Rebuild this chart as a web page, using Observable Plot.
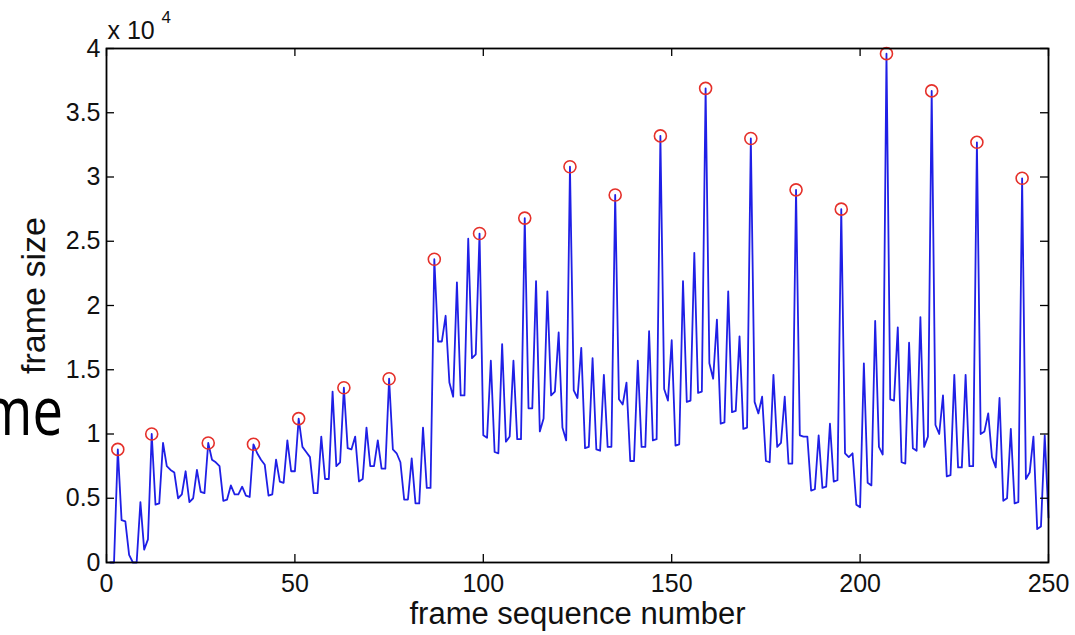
<!DOCTYPE html>
<html>
<head>
<meta charset="utf-8">
<script src="https://cdn.jsdelivr.net/npm/d3@7"></script>
<script src="https://cdn.jsdelivr.net/npm/@observablehq/plot@0.6"></script>
<style>
  html, body { margin: 0; padding: 0; background: #fff; }
  #wrap { position: relative; width: 1075px; height: 635px; overflow: hidden; background: #fff; }
  #overlay { position: absolute; left: 0; top: 0; pointer-events: none; }
</style>
</head>
<body>
<div id="wrap">
  <div id="chart"></div>
  <svg id="overlay" width="1075" height="635">
    <text transform="translate(63,435) scale(0.8,1)" text-anchor="end" font-family="'Open Sans', sans-serif" font-size="68" fill="#000">me</text>
  </svg>
</div>
<script>
// frame sizes (bytes) for frames 1..250
const frameSize = [
  0, 0, 8800, 3300, 3200, 600, 0, 0, 4700, 1000,
  1800, 10000, 4500, 4600, 9300, 7500, 7200, 7000, 5000, 5300,
  7100, 4700, 5000, 7200, 5500, 5400, 9300, 8000, 7800, 7500,
  4800, 4900, 6000, 5300, 5300, 5900, 5200, 5100, 9200, 8500,
  8000, 7600, 5200, 5300, 8000, 6300, 6200, 9500, 7100, 7100,
  11200, 9000, 8600, 8200, 5400, 5400, 9800, 6500, 6500, 13300,
  7500, 7800, 13600, 8900, 8800, 9800, 6300, 6500, 10500, 7500,
  7500, 9500, 7300, 7300, 14300, 8800, 8500, 7800, 4900, 4900,
  8100, 4600, 4600, 10500, 5800, 5800, 23600, 17200, 17200, 19200,
  14000, 12900, 21800, 13000, 13000, 25200, 15900, 16200, 25600, 9900,
  9700, 15700, 8600, 8500, 17000, 9400, 9800, 15700, 9600, 9600,
  26800, 12000, 12000, 21900, 10200, 11200, 21100, 13000, 13300, 17900,
  10500, 9500, 30800, 13400, 12800, 16700, 8900, 9000, 15900, 8800,
  8700, 14600, 9000, 9000, 28600, 12700, 12300, 14000, 7900, 7900,
  15700, 9000, 9000, 18000, 9500, 9600, 33200, 13500, 12600, 17300,
  9100, 9200, 21900, 12500, 12600, 24100, 13200, 13300, 36900, 15500,
  14300, 18900, 10800, 10900, 21100, 11700, 11800, 17600, 10400, 10500,
  33000, 12500, 11600, 12900, 7900, 7800, 14600, 9000, 9300, 12900,
  7700, 7700, 29000, 9900, 9800, 9800, 5600, 5700, 9900, 5800,
  5900, 10800, 6300, 6400, 27500, 8500, 8200, 8500, 4500, 4300,
  15500, 6200, 6000, 18800, 9000, 8400, 39600, 12700, 12600, 18300,
  7800, 7700, 17100, 8900, 8700, 19100, 9000, 9800, 36700, 10700,
  10000, 13000, 6700, 6800, 14600, 7400, 7400, 14600, 7500, 7500,
  32700, 10000, 10200, 11600, 8200, 7400, 12800, 4800, 5000, 10400,
  4600, 4700, 29900, 6500, 7000, 9800, 2600, 2800, 9900, 3500
];
// frames marked with red circles (I-frames)
const iFrames = [3, 12, 27, 39, 51, 63, 75, 87, 99, 111, 123, 135, 147, 159, 171, 183, 195, 207, 219, 231, 243];
const xTicks = [0, 50, 100, 150, 200, 250];
const yTicks = [0, 5000, 10000, 15000, 20000, 25000, 30000, 35000, 40000];
const yTickLabels = ["0", "0.5", "1", "1.5", "2", "2.5", "3", "3.5", "4"];
const xTitle = "frame sequence number";
const yTitle = "frame size";
const expBase = "x 10";
const expPow = "4";

const series = frameSize.map((v, i) => ({frame: i + 1, size: v}));
const peaks = iFrames.map(f => ({frame: f, size: frameSize[f - 1]}));

const W = 1075, H = 635, mL = 106, mR = 27, mT = 48, mB = 73;
const innerW = W - mL - mR, innerH = H - mT - mB, tk = 8;
const font = "'Liberation Sans', Arial, Helvetica, sans-serif";

const chart = Plot.plot({
  width: W, height: H,
  marginLeft: mL, marginRight: mR, marginTop: mT, marginBottom: mB,
  style: {fontFamily: font, fontSize: "25px", color: "#111", background: "#fff", overflow: "visible"},
  x: {domain: [0, 250], label: null},
  y: {domain: [0, 40000], label: null},
  marks: [
    Plot.line(series, {x: "frame", y: "size", stroke: "#1f1fe6", strokeWidth: 1.8}),
    Plot.dot(peaks, {x: "frame", y: "size", r: 6, stroke: "#e5302a", strokeWidth: 1.6, fill: "none"}),
    Plot.tickX(xTicks, {x: d => d, insetTop: innerH - tk, stroke: "#000", strokeWidth: 1.3}),
    Plot.tickX(xTicks, {x: d => d, insetBottom: innerH - tk, stroke: "#000", strokeWidth: 1.3}),
    Plot.tickY(yTicks, {y: d => d, insetRight: innerW - tk, stroke: "#000", strokeWidth: 1.3}),
    Plot.tickY(yTicks, {y: d => d, insetLeft: innerW - tk, stroke: "#000", strokeWidth: 1.3}),
    Plot.axisX(xTicks, {tickSize: 0, tickPadding: 12, fontSize: 25, label: null}),
    Plot.axisY(yTicks, {tickSize: 0, tickPadding: 6, fontSize: 25, label: null,
      tickFormat: d => yTickLabels[yTicks.indexOf(d)]}),
    Plot.text([xTitle], {frameAnchor: "bottom", lineAnchor: "middle", dy: 52, text: d => d, fontSize: 31, fill: "#111"}),
    Plot.text([yTitle], {frameAnchor: "left", lineAnchor: "middle", dx: -72, dy: -10, rotate: -90, textAnchor: "middle", text: d => d, fontSize: 34, fill: "#111"}),
    Plot.text([expBase], {frameAnchor: "top-left", lineAnchor: "middle", textAnchor: "start", dx: 1, dy: -18, text: d => d, fontSize: 25, fill: "#111"}),
    Plot.text([expPow], {frameAnchor: "top-left", lineAnchor: "middle", textAnchor: "start", dx: 55, dy: -31, text: d => d, fontSize: 17, fill: "#111"}),
    Plot.frame({stroke: "#000", strokeWidth: 1.8})
  ]
});
document.getElementById("chart").appendChild(chart);
</script>
</body>
</html>
